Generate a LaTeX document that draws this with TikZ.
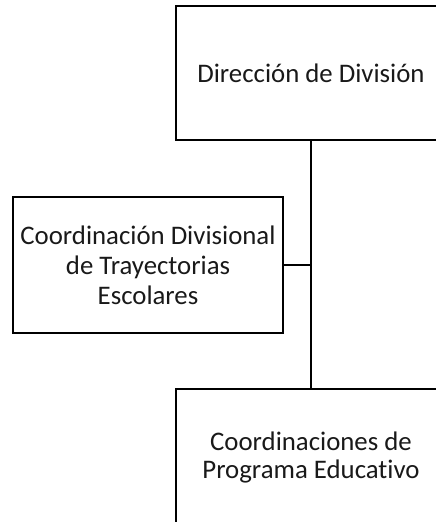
\documentclass[tikz,border=0pt]{standalone}
\usepackage{fontspec}
\setmainfont{Carlito}[Ligatures={NoCommon}]
\begin{document}
\begin{tikzpicture}[x=1pt,y=-1pt,
  unitbox/.style={draw=black, line width=2pt, rectangle, minimum width=270pt, inner sep=0pt,
    align=center, font=\fontsize{26.8}{30}\selectfont, text=black!90},
  link/.style={draw=black, line width=2pt}]
\useasboundingbox (0,0) rectangle (436,522);
\clip (0,0) rectangle (436,522);
\node[unitbox, minimum height=134pt] (dir) at (311,73) {Dirección de División};
\node[unitbox, minimum height=136pt] (cdt) at (148,265) {Coordinación Divisional\\de Trayectorias\\Escolares};
\node[unitbox, minimum height=136pt] (cpe) at (311,457) {Coordinaciones de\\[-2pt]Programa Educativo};
\coordinate (j) at (dir.south |- cdt.east);
\draw[link] (dir.south) -- (cpe.north);
\draw[link] (cdt.east) -- (j);
\end{tikzpicture}
\end{document}
